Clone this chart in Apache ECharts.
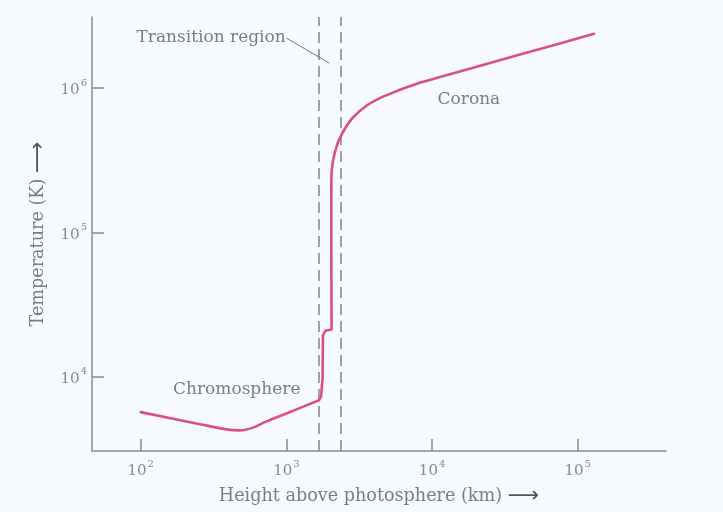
<!DOCTYPE html>
<html>
<head>
<meta charset="utf-8">
<script src="https://cdn.jsdelivr.net/npm/echarts@6/dist/echarts.min.js"></script>
<style>
html,body{margin:0;padding:0;background:#f7fafd;}
#c{width:723px;height:512px;}
</style>
</head>
<body>
<div id="c"></div>
<script>
// Height above photosphere (km) and temperature (K)
var heightKm = [100, 255, 379, 480, 590, 713, 1010, 1674, 1730, 1771, 1783, 1854, 2043, 2034, 2034, 2046, 2099, 2214, 2307, 2525, 2865, 3557, 4389, 5390, 6622, 8260, 11330, 17360, 40120, 75470, 129200];
var temperatureK = [5680, 4688, 4330, 4242, 4436, 4839, 5583, 6865, 7310, 9730, 19300, 20800, 21200, 76700, 199000, 260500, 320300, 393800, 439900, 524000, 624100, 754900, 850500, 928200, 1006500, 1088000, 1189000, 1342000, 1702000, 2034000, 2369000];
// segment boundaries (indices into the arrays above)
var chromosphereEnd = 7;
var coronaStart = 14;
var xTicks = [100, 1000, 10000, 100000];
var yTicks = [10000, 100000, 1000000];
var transitionBounds = [1674, 2359];
var labels = [
  {name: 'Chromosphere', at: [456, 8170]},
  {name: 'Corona', at: [17900, 830000]}
];
var transitionLabel = {name: 'Transition region', from: [1005, 2210000], to: [1968, 1486000]};

var serif = 'DejaVu Serif';
var grey = '#7d7d7d';
var lineColor = '#d9517d';
function expLabel(v) {
  var e = Math.round(Math.log10(v));
  return '{b|10}{s|' + e + '}';
}
var richTick = {
  b: {fontFamily: serif, fontSize: 15, color: '#8a8a8a', lineHeight: 20, verticalAlign: 'bottom'},
  s: {fontFamily: serif, fontSize: 10, color: '#8a8a8a', lineHeight: 20, verticalAlign: 'top', padding: [0, 0, 0, 1]}
};

var chart = echarts.init(document.getElementById('c'));
var pts = heightKm.map(function (h, i) { return [h, temperatureK[i]]; });
var lineStyle = {color: lineColor, width: 2.6, cap: 'round', join: 'round'};

chart.setOption({
  backgroundColor: '#f7fafd',
  animation: false,
  grid: {left: 92, top: 17, right: 57, bottom: 59, containLabel: false},
  xAxis: {
    type: 'log', logBase: 10, min: 46.3, max: 403600,
    name: 'Height above photosphere (km) {a|⟶}',
    nameLocation: 'middle', nameGap: 34,
    nameTextStyle: {fontFamily: serif, fontSize: 17.6, color: grey,
      rich: {a: {fontFamily: 'DejaVu Sans', fontSize: 22, color: '#555'}}},
    axisLine: {show: true, lineStyle: {color: '#8c8c8c', width: 1.5}},
    axisTick: {show: true, inside: true, length: 12, customValues: xTicks, lineStyle: {color: '#8c8c8c', width: 1.5}},
    axisLabel: {customValues: xTicks, formatter: expLabel, rich: richTick, margin: 8},
    splitLine: {show: false}, minorTick: {show: false}
  },
  yAxis: {
    type: 'log', logBase: 10, min: 3055, max: 3100000,
    name: 'Temperature (K) {a|⟶}',
    nameLocation: 'middle', nameGap: 40, nameRotate: 90,
    nameTextStyle: {fontFamily: serif, fontSize: 17.6, color: grey,
      rich: {a: {fontFamily: 'DejaVu Sans', fontSize: 22, color: '#555'}}},
    axisLine: {show: true, lineStyle: {color: '#8c8c8c', width: 1.5}},
    axisTick: {show: true, inside: true, length: 12, customValues: yTicks, lineStyle: {color: '#8c8c8c', width: 1.5}},
    axisLabel: {customValues: yTicks, formatter: expLabel, rich: richTick, margin: 5},
    splitLine: {show: false}, minorTick: {show: false}
  },
  series: [
    {
      type: 'line', data: pts.slice(0, chromosphereEnd + 1), showSymbol: false, symbol: 'none',
      smooth: 0.3, lineStyle: lineStyle, z: 5
    },
    {
      type: 'line', data: pts.slice(chromosphereEnd, coronaStart + 1), showSymbol: false, symbol: 'none',
      smooth: false, lineStyle: lineStyle, z: 5,
      markLine: {
        silent: true, symbol: 'none', animation: false,
        label: {show: false},
        lineStyle: {color: '#8a8a8a', type: [11, 6], width: 1.6},
        data: transitionBounds.map(function (x) { return {xAxis: x}; })
      },
      markPoint: {
        silent: true, symbol: 'circle', symbolSize: 0,
        label: {show: true, position: 'inside', fontFamily: serif, fontSize: 17, color: grey,
          formatter: function (p) { return p.name; }},
        data: labels.map(function (l) { return {name: l.name, coord: l.at}; }).concat([
          {name: transitionLabel.name, coord: transitionLabel.from,
           label: {position: 'left', distance: 1, offset: [0, -1]}}
        ])
      }
    },
    {
      type: 'line', data: pts.slice(coronaStart), showSymbol: false, symbol: 'none',
      smooth: 0.3, lineStyle: lineStyle, z: 5
    },
    {
      type: 'line', data: [], silent: true,
      markLine: {
        silent: true, symbol: 'none', animation: false, label: {show: false},
        lineStyle: {color: '#777', type: 'solid', width: 1},
        data: [[{coord: transitionLabel.from}, {coord: transitionLabel.to}]]
      }
    }
  ]
});
</script>
</body>
</html>
